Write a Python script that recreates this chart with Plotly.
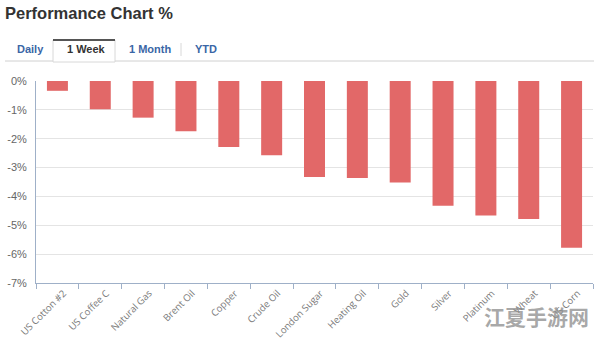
import plotly.graph_objects as go

categories = ["US Cotton #2", "US Coffee C", "Natural Gas", "Brent Oil", "Copper",
              "Crude Oil", "London Sugar", "Heating Oil", "Gold", "Silver",
              "Platinum", "Wheat", "US Corn"]
values = [-0.34, -0.98, -1.27, -1.74, -2.29, -2.57, -3.33, -3.36, -3.52, -4.32,
          -4.66, -4.78, -5.78]
y_ticks = [0, -1, -2, -3, -4, -5, -6, -7]
y_tick_labels = ["0%", "-1%", "-2%", "-3%", "-4%", "-5%", "-6%", "-7%"]
tabs = ["Daily", "1 Week", "1 Month", "YTD"]

W, H = 594, 339
L, R, T, B = 36, 1, 81, 56
PW, PH = W - L - R, H - T - B

def px(x):
    return (x - L) / PW

def py(y):
    return (H - B - y) / PH

fig = go.Figure()
fig.add_trace(go.Bar(
    x=categories, y=values,
    marker=dict(color="#e26868", line=dict(width=0)),
    width=0.49,
))

axis_col = "#9fb0c8"
fig.update_layout(
    width=W, height=H,
    margin=dict(l=L, r=R, t=T, b=B),
    paper_bgcolor="white", plot_bgcolor="white",
    showlegend=False,
    font=dict(family="Liberation Sans, Arial, sans-serif", color="#666"),
    xaxis=dict(
        type="category", tickson="boundaries", ticks="outside", ticklen=5,
        tickcolor=axis_col, tickwidth=1, showgrid=False, showline=True,
        linecolor=axis_col, linewidth=1, tickangle=-45,
        tickfont=dict(family="Open Sans, sans-serif", size=9.6, color="#7a7a7a"),
        ticklabelshift=6, automargin=False,
        range=[-0.5, len(categories) - 0.5],
    ),
    yaxis=dict(
        range=[-7, 0], tickvals=y_ticks, ticktext=y_tick_labels,
        showgrid=True, gridcolor="#e4e4e4", gridwidth=1, zeroline=False,
        showline=True, linecolor=axis_col, linewidth=1, automargin=False,
        tickfont=dict(size=11, color="#666"), ticks="", ticklabelstandoff=6,
    ),
)

shapes = []
# line under tabs
shapes.append(dict(type="line", xref="paper", yref="paper", x0=px(5), x1=px(594),
                   y0=py(61), y1=py(61), line=dict(color="#d0d0d0", width=1)))
# selected tab box
shapes.append(dict(type="rect", xref="paper", yref="paper", x0=px(53), x1=px(115),
                   y0=py(62), y1=py(40), fillcolor="white",
                   line=dict(color="#d8d8d8", width=1)))
shapes.append(dict(type="line", xref="paper", yref="paper", x0=px(53), x1=px(115),
                   y0=py(40), y1=py(40), line=dict(color="#555", width=2)))
# separator
shapes.append(dict(type="line", xref="paper", yref="paper", x0=px(181), x1=px(181),
                   y0=py(43), y1=py(56), line=dict(color="#d8d8d8", width=1)))
fig.update_layout(shapes=shapes)

ann = []
ann.append(dict(text="<b>Performance Chart %</b>", xref="paper", yref="paper",
                x=px(3), y=py(13), xanchor="left", yanchor="middle", showarrow=False,
                font=dict(size=16.5, color="#333", family="Liberation Sans, Arial")))
tab_x = [15, 65, 127, 193]
for i, t in enumerate(tabs):
    sel = (t == "1 Week")
    ann.append(dict(text="<b>%s</b>" % t, xref="paper", yref="paper",
                    x=px(tab_x[i]), y=py(49), xanchor="left", yanchor="middle",
                    showarrow=False,
                    font=dict(size=11, color="#333" if sel else "#3a66a6",
                              family="Liberation Sans, Arial")))
ann.append(dict(text="<b>江夏手游网</b>", xref="paper", yref="paper",
                x=px(536), y=py(316), xanchor="center", yanchor="middle",
                showarrow=False,
                font=dict(size=21, color="rgba(140,140,140,0.75)",
                          family="Noto Sans CJK SC")))
fig.update_layout(annotations=ann)

fig.write_html("out.html")
